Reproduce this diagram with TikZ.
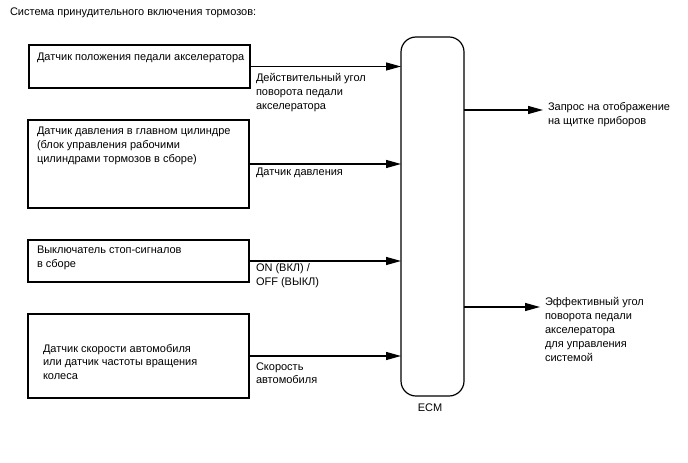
\documentclass[tikz,border=0pt]{standalone}
\usepackage{fontspec}
\setmainfont{Liberation Sans}
\usetikzlibrary{arrows.meta,calc}
\begin{document}
\begin{tikzpicture}[x=1bp,y=-1bp,
  every node/.style={font=\fontsize{11bp}{13.8bp}\selectfont, inner sep=0pt, outer sep=0pt},
  box/.style={draw, line width=1.2bp, anchor=north west},
  txt/.style={anchor=base west, align=left},
  arr/.style={line width=1.2bp, -{Triangle[length=15bp,width=8bp]}}]
\useasboundingbox[fill=white] (0,0) rectangle (688,463);
\node[txt] (title) at (10,16) {Система принудительного включения тормозов:};
% boxes
\node[box, minimum width=221bp, minimum height=43bp] (b1) at (29,45) {};
\node[box, minimum width=221bp, minimum height=88bp] (b2) at (28,120) {};
\node[box, minimum width=221bp, minimum height=42bp] (b3) at (28,240) {};
\node[box, minimum width=221bp, minimum height=84bp] (b4) at (28,314) {};
% text nodes: base = baseline of the last line
\node[txt] (t1) at (37,61) {Датчик положения педали акселератора};
\node[txt] (t2) at (37,162.6) {Датчик давления в главном цилиндре\\(блок управления рабочими\\цилиндрами тормозов в сборе)};
\node[txt] (t3) at (37,267.8) {Выключатель стоп-сигналов\\в сборе};
\node[txt] (t4) at (43,379.6) {Датчик скорости автомобиля\\или датчик частоты вращения\\колеса};
% ECM
\node[draw, line width=1.2bp, rounded corners=15bp, minimum width=63bp, minimum height=359bp, anchor=north west] (ecm) at (401,37) {};
\node[anchor=base] (ecml) at (430,411) {ECM};
% input arrows
\draw[arr] (b1.east) -- (b1.east -| ecm.west);
\draw[arr] (b2.east) -- (b2.east -| ecm.west);
\draw[arr] (b3.east) -- (b3.east -| ecm.west);
\draw[arr] (b4.east) -- (b4.east -| ecm.west);
\node[txt] (l1) at (256,109.6) {Действительный угол\\поворота педали\\акселератора};
\node[txt] (l2) at (256,176) {Датчик давления};
\node[txt] (l3) at (256,285.8) {ON (ВКЛ) /\\OFF (ВЫКЛ)};
\node[txt] (l4) at (256,383.8) {Скорость\\автомобиля};
% outputs
\coordinate (o1) at (543,110);
\coordinate (o2) at (540,307);
\draw[arr] (o1 -| ecm.east) -- (o1);
\draw[arr] (o2 -| ecm.east) -- (o2);
\node[txt] (r1) at (548,124.8) {Запрос на отображение\\на щитке приборов};
\node[txt] (r2) at (545,361) {Эффективный угол\\поворота педали\\акселератора\\для управления\\системой};
\end{tikzpicture}
\end{document}
